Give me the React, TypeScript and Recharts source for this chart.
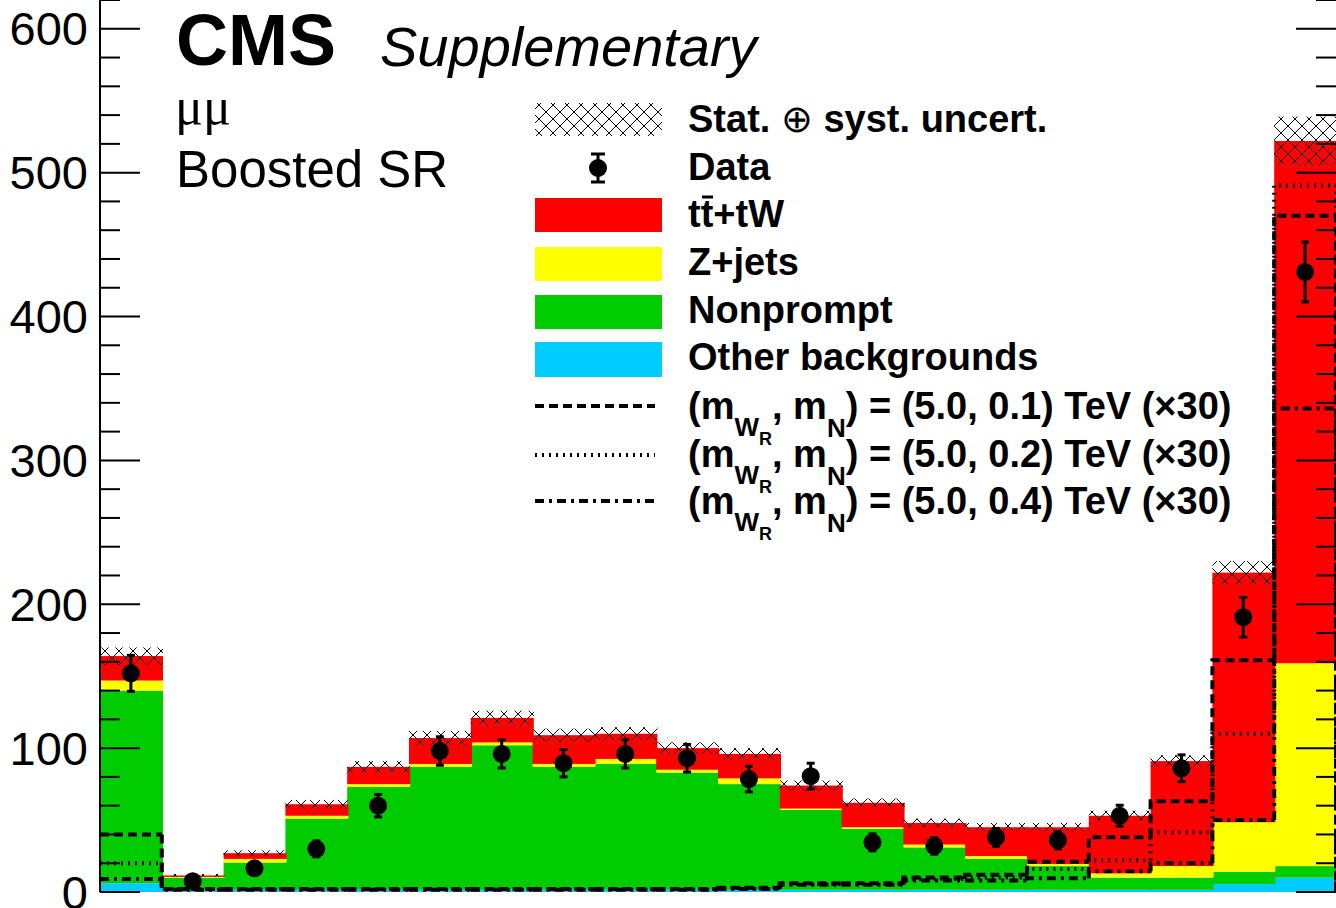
import React from 'react';
import { ComposedChart, Bar, Line, XAxis, YAxis, ErrorBar } from 'recharts';

// 20 bins of the boosted mumu signal region
const BINS = ['1', '2', '3', '4', '5', '6', '7', '8', '9', '10', '11', '12', '13', '14', '15', '16', '17', '18', '19', '20'];

const OTHER = [6, 1, 1.5, 1.5, 1.5, 1.5, 1.5, 1.5, 1.5, 1.5, 1.5, 1.5, 1.5, 1.5, 1.5, 1.5, 1.5, 1.5, 5.5, 10];
const NONPROMPT = [134, 9, 19, 49.5, 71.5, 85.5, 100.5, 85.5, 87.5, 81.5, 73.5, 55.5, 42.5, 29.5, 21.5, 16.5, 8.5, 8.5, 8.5, 8];
const ZJETS = [7, 0.5, 2.5, 2, 2, 2, 2, 2, 3.5, 2, 4, 1, 1, 2, 2, 1.5, 3, 8, 34.5, 141];
const TTBAR = [17, 1, 4, 8, 12, 18, 17, 20, 17.5, 15, 17, 16, 17, 15, 20, 25.5, 40, 73, 173.5, 363];
const UNCERT = [6, 1, 2, 3, 4, 5, 5, 4.5, 4.5, 4, 4, 3.5, 3, 3, 3, 3, 3.5, 4, 8, 17];

const DATA_OBS = [152, 7.5, 16.5, 30, 60, 98, 96, 89.5, 96, 93, 78.5, 80.5, 34.5, 32, 38, 36, 53, 86, 191, 431];
const DATA_ERR = [12.5, 2.8, 4.1, 5.5, 7.8, 9.9, 9.8, 9.5, 9.8, 9.6, 8.9, 9, 5.9, 5.7, 6.2, 6, 7.3, 9.3, 13.8, 20.8];

// signal hypotheses, scaled x30
const SIG_01 = [40, 2, 2, 2, 2, 2, 2, 2, 2, 2, 3, 6, 6, 10, 12, 21, 38, 63, 161, 470];
const SIG_02 = [20, 2, 2, 2, 2, 2, 2, 2, 2, 2, 2.5, 5.5, 5.5, 9, 10, 16, 22, 41.5, 110, 491];
const SIG_04 = [9, 1.5, 1.5, 1.5, 1.5, 1.5, 1.5, 1.5, 1.5, 1.5, 2, 5, 5, 8, 8, 9.5, 14.5, 20, 50, 336];

const Y_TICKS = [0, 20, 40, 60, 80, 100, 120, 140, 160, 180, 200, 220, 240, 260, 280, 300, 320, 340, 360, 380, 400, 420, 440, 460, 480, 500, 520, 540, 560, 580, 600, 620];
const Y_LABELS = [0, 100, 200, 300, 400, 500, 600];

const W = 1336;
const H = 908;
const PLOT_L = 100;
const PLOT_R = 1336;
const PLOT_B = 892;
const BIN_W = (PLOT_R - PLOT_L) / BINS.length;
const FONT = "'Liberation Sans', Arial, Helvetica, sans-serif";

const DASH_01 = '9 5';
const DASH_02 = '2 5';
const DASH_04 = '9 5 3 5';

const rows = BINS.map((bin, i) => {
  const total = OTHER[i] + NONPROMPT[i] + ZJETS[i] + TTBAR[i];
  return {
    bin,
    other: OTHER[i],
    nonprompt: NONPROMPT[i],
    zjets: ZJETS[i],
    ttbar: TTBAR[i],
    band: [total - UNCERT[i], total + UNCERT[i]],
    data: DATA_OBS[i],
    dataErr: DATA_ERR[i],
    s01: SIG_01[i],
    s02: SIG_02[i],
    s04: SIG_04[i],
  };
});

const FillShape = (props: any) => {
  const { x, y, width, height, fill } = props;
  if (!height) return null;
  const top = Math.min(y, y + height);
  return <rect x={x} y={top} width={width + 1} height={Math.abs(height)} fill={fill} stroke="none" />;
};

const stepShape = (values: number[], dash: string) => (props: any) => {
  const { x, y, height, index } = props;
  const base = y + height;
  const perUnit = height / values[index];
  const prev = index > 0 ? values[index - 1] : 0;
  const yPrev = base - prev * perUnit;
  const last = index === values.length - 1;
  let d = index > 0 ? `M${x},${yPrev}V${y}H${x + BIN_W}` : `M${x},${y}H${x + BIN_W}`;
  if (last) d += `V${base}`;
  return <path d={d} stroke="#000" strokeWidth={4} strokeDasharray={dash} fill="none" />;
};

const YTick = (props: any) => {
  const { y, payload } = props;
  const v = payload.value;
  const major = Y_LABELS.includes(v);
  const len = major ? 40 : 20;
  return (
    <g>
      <line x1={PLOT_L} x2={PLOT_L + len} y1={y} y2={y} stroke="#000" strokeWidth={2} />
      <line x1={PLOT_R - len} x2={PLOT_R} y1={y} y2={y} stroke="#000" strokeWidth={2} />
      {major && (
        <text x={88} y={y} dy={16.5} textAnchor="end" fontSize={47} fontFamily={FONT} fill="#000">
          {v}
        </text>
      )}
    </g>
  );
};

const XTick = (props: any) => {
  const { x, index, payload } = props;
  const start = x - (payload?.offset ?? 0);
  const edges = [{ ex: start, k: index }];
  if (index === BINS.length - 1) edges.push({ ex: start + BIN_W, k: index + 1 });
  return (
    <g>
      {edges.map(({ ex, k }) => (
        <line key={k} x1={ex} x2={ex} y1={PLOT_B} y2={PLOT_B - (k % 2 === 0 ? 25 : 12)} stroke="#000" strokeWidth={2} />
      ))}
    </g>
  );
};

const DataDot = (props: any) => {
  const { cx, cy, index } = props;
  return <circle key={`d${index}`} cx={cx} cy={cy} r={9} fill="#000" />;
};

const Overlay = () => {
  const boxX = 535;
  const boxW = 127;
  const textX = 688;
  const signalRows = [
    { y: 406, base: 419, dash: DASH_01, mass: '0.1' },
    { y: 455, base: 467, dash: DASH_02, mass: '0.2' },
    { y: 501, base: 514, dash: DASH_04, mass: '0.4' },
  ];
  return (
    <svg width={W} height={H} style={{ position: 'absolute', left: 0, top: 0, pointerEvents: 'none' }}>
      <defs>
        <pattern id="hatch" patternUnits="userSpaceOnUse" width={14} height={14}>
          <path d="M0,0L14,14M14,0L0,14" stroke="#000" strokeWidth={1} fill="none" />
        </pattern>
      </defs>
      <text x={176} y={65} fontSize={72} fontWeight="bold" fontFamily={FONT}>CMS</text>
      <text x={380} y={66} fontSize={56} fontStyle="italic" fontFamily={FONT}>Supplementary</text>
      <text x={175} y={124} fontSize={52} fontFamily="'Liberation Serif', 'DejaVu Serif', serif">μμ</text>
      <text x={176} y={187} fontSize={51} fontFamily={FONT}>Boosted SR</text>

      <g fontFamily={FONT} fontWeight="bold" fontSize={38} fill="#000">
        <rect x={boxX} y={103} width={boxW} height={33} fill="url(#hatch)" />
        <text x={textX} y={132}>
          Stat. <tspan fontWeight="normal">⊕</tspan> syst. uncert.
        </text>

        <line x1={598} x2={598} y1={154} y2={182} stroke="#000" strokeWidth={3} />
        <line x1={591} x2={605} y1={154} y2={154} stroke="#000" strokeWidth={3} />
        <line x1={591} x2={605} y1={182} y2={182} stroke="#000" strokeWidth={3} />
        <circle cx={598} cy={168} r={9} fill="#000" />
        <text x={textX} y={180}>Data</text>

        <rect x={boxX} y={198} width={boxW} height={34} fill="#ff0000" />
        <text x={textX} y={227}>tt+tW</text>
        <line x1={702} x2={713} y1={197} y2={197} stroke="#000" strokeWidth={3} />

        <rect x={boxX} y={247} width={boxW} height={34} fill="#ffff00" />
        <text x={textX} y={275}>Z+jets</text>

        <rect x={boxX} y={295} width={boxW} height={34} fill="#00cc00" />
        <text x={textX} y={323}>Nonprompt</text>

        <rect x={boxX} y={342} width={boxW} height={35} fill="#00ccff" />
        <text x={textX} y={370}>Other backgrounds</text>

        {signalRows.map((r) => (
          <g key={r.mass}>
            <line x1={boxX} x2={655} y1={r.y} y2={r.y} stroke="#000" strokeWidth={4} strokeDasharray={r.dash} />
            <text x={textX} y={r.base}>
              (m
              <tspan dy={17} fontSize={26}>W</tspan>
              <tspan dy={9} fontSize={18}>R</tspan>
              <tspan dy={-26} fontSize={38}>, m</tspan>
              <tspan dy={18} fontSize={26}>N</tspan>
              <tspan dy={-18} fontSize={38}>{`) = (5.0, ${r.mass}) TeV (×30)`}</tspan>
            </text>
          </g>
        ))}
      </g>
    </svg>
  );
};

export default function App() {
  return (
    <div style={{ position: 'absolute', left: 0, top: 0, width: W, height: H, background: '#fff' }}>
      <ComposedChart
        width={W}
        height={H}
        data={rows}
        margin={{ top: 0, right: 0, bottom: H - PLOT_B, left: 0 }}
        barCategoryGap={0}
        barGap={0}
      >
        <XAxis
          xAxisId="main"
          dataKey="bin"
          height={0}
          interval={0}
          tickLine={false}
          tickSize={0}
          tickMargin={0}
          tick={<XTick />}
          axisLine={{ stroke: '#000', strokeWidth: 2 }}
        />
        <XAxis xAxisId="band" dataKey="bin" hide />
        <XAxis xAxisId="s1" dataKey="bin" hide />
        <XAxis xAxisId="s2" dataKey="bin" hide />
        <XAxis xAxisId="s3" dataKey="bin" hide />
        <YAxis
          type="number"
          width={PLOT_L}
          domain={[0, 620]}
          ticks={Y_TICKS}
          interval={0}
          tickLine={false}
          tickSize={0}
          tickMargin={0}
          tick={<YTick />}
          axisLine={{ stroke: '#000', strokeWidth: 2 }}
        />

        <Bar xAxisId="main" dataKey="other" stackId="bg" fill="#00ccff" shape={<FillShape />} isAnimationActive={false} />
        <Bar xAxisId="main" dataKey="nonprompt" stackId="bg" fill="#00cc00" shape={<FillShape />} isAnimationActive={false} />
        <Bar xAxisId="main" dataKey="zjets" stackId="bg" fill="#ffff00" shape={<FillShape />} isAnimationActive={false} />
        <Bar xAxisId="main" dataKey="ttbar" stackId="bg" fill="#ff0000" shape={<FillShape />} isAnimationActive={false} />

        <Bar xAxisId="band" dataKey="band" fill="url(#hatch)" shape={<FillShape />} isAnimationActive={false} />

        <Bar xAxisId="s1" dataKey="s01" fill="none" shape={stepShape(SIG_01, DASH_01)} isAnimationActive={false} />
        <Bar xAxisId="s2" dataKey="s02" fill="none" shape={stepShape(SIG_02, DASH_02)} isAnimationActive={false} />
        <Bar xAxisId="s3" dataKey="s04" fill="none" shape={stepShape(SIG_04, DASH_04)} isAnimationActive={false} />

        <Line
          xAxisId="main"
          dataKey="data"
          stroke="none"
          dot={<DataDot />}
          activeDot={false}
          isAnimationActive={false}
        >
          <ErrorBar dataKey="dataErr" width={4} strokeWidth={3} stroke="#000" direction="y" isAnimationActive={false} />
        </Line>
      </ComposedChart>
      <Overlay />
    </div>
  );
}
